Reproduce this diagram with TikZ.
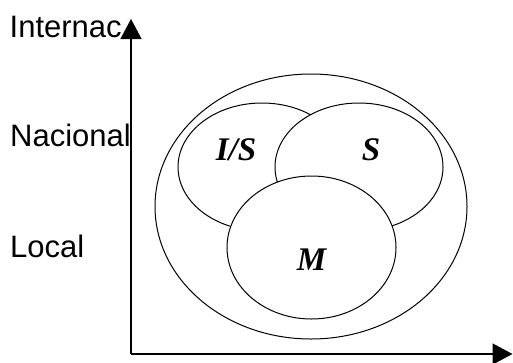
\documentclass[tikz,border=0pt]{standalone}
\usepackage{fontspec}
\setmainfont{Liberation Sans}
\newfontfamily\tmsfont{Liberation Serif}
\usetikzlibrary{shapes.geometric,arrows.meta}
\tikzset{
  ring/.style={ellipse, draw, line width=1pt, fill=white, inner sep=0pt},
  axislabel/.style={anchor=base west, inner sep=0pt, font=\fontsize{31}{37}\selectfont},
  setlabel/.style={anchor=base, inner sep=0pt, font=\tmsfont\bfseries\itshape\fontsize{33}{39}\selectfont},
  axis/.style={line width=1.5pt, -{Triangle[length=20pt,width=21pt]}}
}
\begin{document}
\begin{tikzpicture}[x=1pt,y=-1pt]
\useasboundingbox (0,0) rectangle (513,362);
\node[ring, minimum width=312pt, minimum height=265pt] (outer) at (311,206.5) {};
\node[ring, minimum width=168pt, minimum height=128pt] (is) at (262,167) {};
\node[ring, minimum width=168pt, minimum height=128pt] (s) at (359,167) {};
\node[ring, minimum width=169pt, minimum height=143pt] (m) at (311.5,247.5) {};
\node[setlabel] (tis) at (236,160.7) {I/S};
\node[setlabel] (ts) at (371,160.7) {S};
\node[setlabel] (tm) at (311.5,270.7) {M};
\coordinate (origin) at (131,354);
\coordinate (ytip) at (131,19);
\coordinate (xtip) at (512.5,354);
\draw[axis] (origin) -- (ytip);
\draw[axis] (origin) -- (xtip);
\node[axislabel] (inter) at (9.5,37) {Internac};
\node[axislabel] (nac) at (10,146.7) {Nacional};
\node[axislabel] (loc) at (10,257.3) {Local};
\end{tikzpicture}
\end{document}
